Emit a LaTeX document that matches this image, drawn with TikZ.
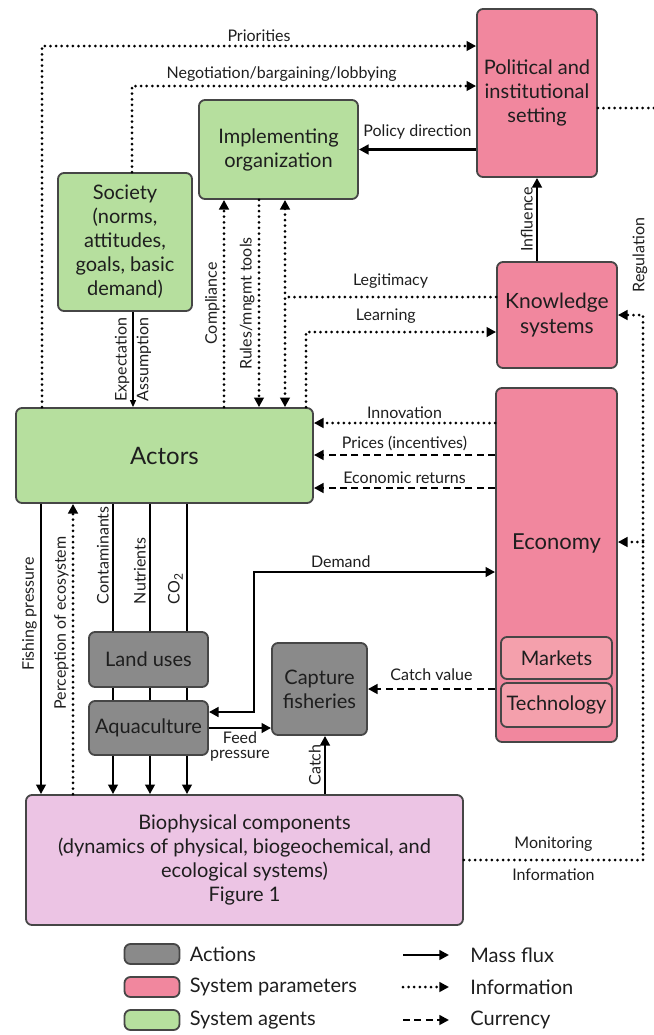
\documentclass[tikz,border=0pt]{standalone}
\usepackage{fontspec}
\setmainfont{Lato}
\usetikzlibrary{arrows.meta,positioning}
\definecolor{agentgreen}{RGB}{182,223,158}
\definecolor{parampink}{RGB}{241,135,158}
\definecolor{subpink}{RGB}{244,160,172}
\definecolor{actiongray}{RGB}{138,138,138}
\definecolor{biopink}{RGB}{236,196,228}
\definecolor{edge}{RGB}{70,70,70}
\definecolor{txt}{RGB}{30,30,30}

\begin{document}
\begin{tikzpicture}[x=0.5pt,y=0.5pt,font=\fontsize{8}{9}\selectfont,text=txt,inner sep=1.5pt,
  >={Triangle[length=4.8pt,width=4.8pt]},
  box/.style={draw=edge,line width=0.9pt,rounded corners=3pt,align=center,font=\fontsize{10}{12}\selectfont},
  agent/.style={box,fill=agentgreen},
  param/.style={box,fill=parampink},
  action/.style={box,fill=actiongray},
  mass/.style={line width=1.2pt},
  info/.style={line width=1.5pt,line cap=round,dash pattern=on 0pt off 2.8pt},
  cur/.style={line width=1.4pt,dash pattern=on 3.5pt off 2.2pt},
  rot/.style={rotate=90},
  keytext/.style={font=\fontsize{10}{12}\selectfont}]
\useasboundingbox (0,0) rectangle (654,-1035);

% boxes
\node (political) at (537,-93) [param,minimum width=60pt,minimum height=84pt] {Political and\\institutional\\setting};
\node (implementing) at (278.5,-149.5) [agent,minimum width=79.5pt,minimum height=49.5pt] {Implementing\\organization};
\node (society) at (125,-242) [agent,minimum width=67pt,minimum height=69pt] {Society\\(norms,\\attitudes,\\goals, basic\\demand)};
\node (knowledge) at (557,-315) [param,minimum width=60pt,minimum height=53pt,font=\fontsize{10.5}{12.5}\selectfont] {Knowledge\\systems};
\node (actors) at (164.5,-455.5) [agent,minimum width=148.5pt,minimum height=47.5pt,font=\fontsize{12}{14}\selectfont] {Actors};
\node (economy) at (556.5,-565) [param,minimum width=60.5pt,minimum height=177pt,
  label={[font=\fontsize{11}{13}\selectfont,yshift=11pt]center:Economy}] {};
\node (markets) at (556.5,-658) [box,fill=subpink,minimum width=55.5pt,minimum height=21pt] {Markets};
\node (technology) at (556.5,-705) [box,fill=subpink,minimum width=55.5pt,minimum height=22pt] {Technology};
\node (landuse) at (148.5,-659.5) [action,minimum width=59.5pt,minimum height=27.5pt] {Land uses};
\node (aquaculture) at (148.5,-728) [action,minimum width=59.5pt,minimum height=27pt] {Aquaculture};
\node (capture) at (319.5,-689) [action,minimum width=47.5pt,minimum height=46pt] {Capture\\fisheries};
\node (bio) at (244.5,-860) [box,fill=biopink,minimum width=218.5pt,minimum height=65pt] {Biophysical components\\(dynamics of physical, biogeochemical, and\\ecological systems)\\Figure 1};
\node (regulation) at (640,-255) [rot] {Regulation};

% bends and line columns
\coordinate (prio) at (42,-46);
\coordinate (nego) at (132,-86);
\coordinate (expect) at (133,-360);
\coordinate (compl) at (224,-300);
\coordinate (rules) at (259,-300);
\coordinate (legit) at (285,-297);
\coordinate (learn) at (306,-332);
\coordinate (polout) at (654,-108);
\coordinate (innov) at (400,-423);
\coordinate (price) at (400,-455);
\coordinate (returns) at (400,-488);
\coordinate (regul) at (643,-860);
\coordinate (regecon) at (643,-542);
\coordinate (fish) at (41,-650);
\coordinate (percep) at (73,-650);
\coordinate (contam) at (113,-650);
\coordinate (nutri) at (150,-650);
\coordinate (cotwo) at (187,-650);
\coordinate (demand) at (254,-572);
\coordinate (catch) at (325,-765);

% upper part
\draw[info,->] (actors.north -| prio) -- (prio) -- node[above] {Priorities} (prio -| political.west);
\draw[info,->] (society.north -| nego) -- (nego) -- node[above,pos=0.435] {Negotiation/bargaining/lobbying} (nego -| political.west);
\draw[mass,->] (political.west |- implementing.east) -- node[above=3pt] {Policy direction} (implementing.east);
\draw[line width=0.6pt,-{Triangle[length=3.5pt,width=3pt]}] (society.south -| expect) -- node[rot,anchor=south] {Expectation} node[rot,anchor=north] {Assumption} (actors.north -| expect);
\draw[info,->] (actors.north -| compl) -- node[rot,anchor=south] {Compliance} (implementing.south -| compl);
\draw[info,->] (implementing.south -| rules) -- node[rot,anchor=south] {Rules/mngmt tools} (actors.north -| rules);
\draw[info,<->] (implementing.south -| legit) -- (actors.north -| legit);
\draw[info] (knowledge.west |- legit) -- node[above=2pt] {Legitimacy} (legit);
\draw[info,->] (actors.north -| learn) -- (learn) -- node[above=2pt,pos=0.42] {Learning} (learn -| knowledge.west);
\draw[mass,->] (knowledge.north -| political.south) -- node[rot,anchor=south] {Influence} (political.south);
\draw[info] (polout -| political.east) -- (polout);

% economy to actors
\draw[info,->] (innov -| economy.west) -- node[above] {Innovation} (innov -| actors.east);
\draw[cur,->] (price -| economy.west) -- node[above] {Prices (incentives)} (price -| actors.east);
\draw[cur,->] (returns -| economy.west) -- node[above] {Economic returns} (returns -| actors.east);

% monitoring and regulation
\draw[info,->] (bio.east) -- node[above=2pt] {Monitoring} node[below=2pt] {Information} (regul) -- (regul |- knowledge.east) -- (knowledge.east);
\draw[info,->] (regecon) -- (regecon -| economy.east);

% actors to biophysical
\draw[mass,->] (actors.south -| fish) -- node[rot,anchor=south,pos=0.38] {Fishing pressure} (bio.north -| fish);
\draw[info,->] (bio.north -| percep) -- node[rot,anchor=south,pos=0.59] {Perception of ecosystem} (actors.south -| percep);
\draw[mass] (actors.south -| contam) -- node[rot,anchor=south west,pos=0.82] {Contaminants} (landuse.north -| contam);
\draw[mass] (actors.south -| nutri) -- node[rot,anchor=south west,pos=0.82] {Nutrients} (landuse.north -| nutri);
\draw[mass] (actors.south -| cotwo) -- node[rot,anchor=south west,pos=0.82] {CO\textsubscript{2}} (landuse.north -| cotwo);
\draw[mass] (landuse.south -| contam) -- (aquaculture.north -| contam);
\draw[mass] (landuse.south -| nutri) -- (aquaculture.north -| nutri);
\draw[mass] (landuse.south -| cotwo) -- (aquaculture.north -| cotwo);
\draw[mass,->] (aquaculture.south -| contam) -- (bio.north -| contam);
\draw[mass,->] (aquaculture.south -| nutri) -- (bio.north -| nutri);
\draw[mass,->] (aquaculture.south -| cotwo) -- (bio.north -| cotwo);

% actions and markets
\draw[mass,<->] ([yshift=8pt]aquaculture.east) -| (demand) -- node[above,pos=0.36] {Demand} (demand -| economy.west);
\draw[mass,->] (aquaculture.east) -- node[below,align=center,font=\fontsize{8}{7.5}\selectfont] {Feed\\pressure} (aquaculture.east -| capture.west);
\draw[cur,->] (capture.east -| economy.west) -- node[above=2pt] {Catch value} (capture.east);
\draw[mass,->] (bio.north -| catch) -- node[rot,anchor=south] {Catch} (capture.south -| catch);

% legend
\node (keyact) at (152,-954) [action,minimum width=27.5pt,minimum height=10pt] {};
\node (keypar) at (152,-987) [param,minimum width=27.5pt,minimum height=10pt] {};
\node (keyagt) at (152,-1020) [agent,minimum width=27.5pt,minimum height=10pt] {};
\node (txtact) [right=3pt of keyact,keytext] {Actions};
\node (txtpar) [right=3pt of keypar,keytext] {System parameters};
\node (txtagt) [right=3pt of keyagt,keytext] {System agents};
\node (txtmass) at (467,-955) [anchor=west,keytext] {Mass flux};
\node (txtinfo) at (467,-987) [anchor=west,keytext] {Information};
\node (txtcur) at (467,-1020) [anchor=west,keytext] {Currency};
\draw[mass,->] ([xshift=-32pt]txtmass.west) -- ([xshift=-9pt]txtmass.west);
\draw[info,->] ([xshift=-32pt]txtinfo.west) -- ([xshift=-9pt]txtinfo.west);
\draw[cur,->] ([xshift=-32pt]txtcur.west) -- ([xshift=-9pt]txtcur.west);
\end{tikzpicture}
\end{document}
